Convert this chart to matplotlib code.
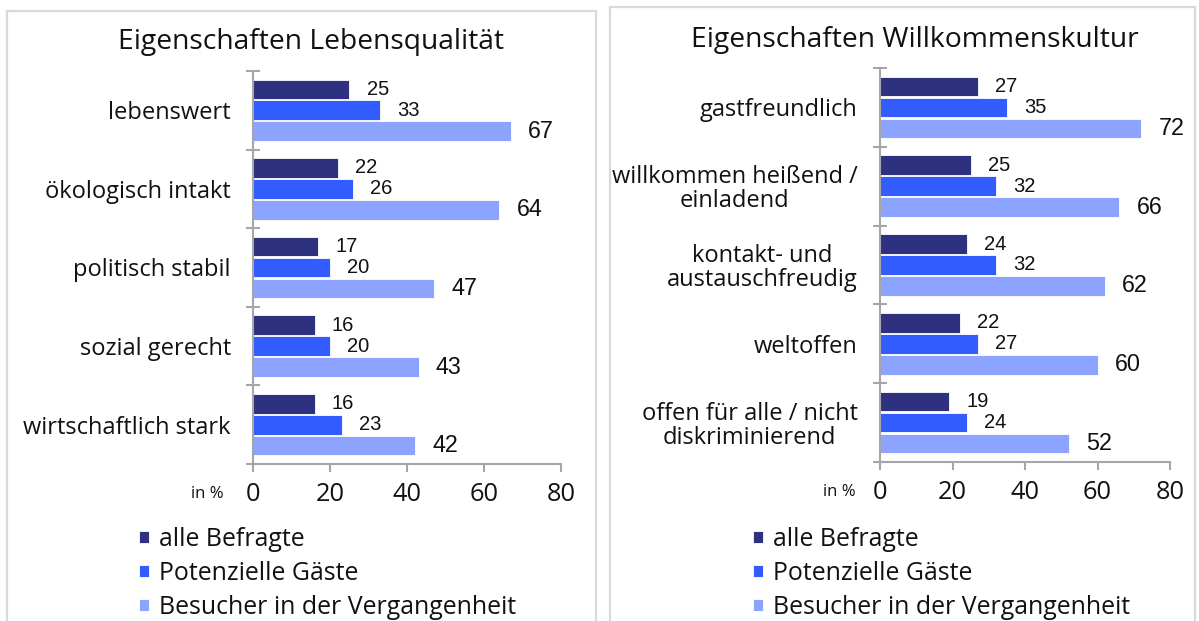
import numpy as np
import matplotlib

matplotlib.use("Agg")
import matplotlib.pyplot as plt
from matplotlib.patches import Rectangle

W, H = 1199, 621

series = ["alle Befragte", "Potenzielle Gäste", "Besucher in der Vergangenheit"]
colors = ["#2E3180", "#335CFF", "#8CA3FF"]

lq_categories = ["lebenswert", "ökologisch intakt", "politisch stabil",
                 "sozial gerecht", "wirtschaftlich stark"]
lq_alle = [25, 22, 17, 16, 16]
lq_potenziell = [33, 26, 20, 20, 23]
lq_besucher = [67, 64, 47, 43, 42]

wk_categories = ["gastfreundlich", "willkommen heißend /\neinladend",
                 "kontakt- und\naustauschfreudig", "weltoffen",
                 "offen für alle / nicht\ndiskriminierend"]
wk_alle = [27, 25, 24, 22, 19]
wk_potenziell = [35, 32, 32, 27, 24]
wk_besucher = [72, 66, 62, 60, 52]

x_ticks = [0, 20, 40, 60, 80]

GRID = "#A6A6A6"
FRAME = "#D9D9D9"
INK = "#111111"

plt.rcParams["font.family"] = ["Open Sans", "DejaVu Sans"]


def fig_rect(x0, y0, x1, y1):
    # pixel box (top-left origin) -> figure fraction [left, bottom, width, height]
    return [x0 / W, 1 - y1 / H, (x1 - x0) / W, (y1 - y0) / H]


def draw_panel(fig, frame_px, axes_px, title, title_px, categories, values, legend_px, inpct_px):
    fr = fig_rect(*frame_px)
    fig.add_artist(Rectangle(fr[:2], fr[2], fr[3], transform=fig.transFigure,
                             fill=False, edgecolor=FRAME, linewidth=1.6))
    fig.text(title_px[0] / W, 1 - title_px[1] / H, title, ha="center", va="center",
             fontsize=20.3, color=INK)

    ax = fig.add_axes(fig_rect(*axes_px))
    pos = np.arange(len(categories)) + 0.5
    offsets = [-0.266, 0.0, 0.266]
    label_sizes = [14.5, 14.5, 16.8]
    bars = []
    for vals, off, col, fs in zip(values, offsets, colors, label_sizes):
        b = ax.barh(pos + off, vals, height=0.25, color=col, edgecolor="white", linewidth=0.6)
        bars.append(b)
        for y, v in zip(pos + off, vals):
            # value labels use a Helvetica-like face, as in the source chart
            ax.annotate(f"{v}", xy=(v, y), xytext=(12.5, 0), textcoords="offset points",
                        ha="left", va="center", fontsize=fs, family="Liberation Sans",
                        color=INK)

    ax.set_xlim(0, 80)
    ax.set_ylim(len(categories), 0)
    ax.set_xticks(x_ticks)
    ax.set_yticks(pos)
    ax.set_yticklabels(categories, multialignment="center", linespacing=1.0)
    ax.set_yticks(np.arange(len(categories) + 1), minor=True)
    ax.tick_params(axis="y", which="major", length=0, pad=16, labelsize=17.0,
                   labelcolor=INK)
    ax.tick_params(axis="y", which="minor", direction="inout", length=10, width=1.5, color=GRID)
    ax.tick_params(axis="x", direction="out", length=6, width=1.5, color=GRID,
                   labelsize=18.3, pad=7, labelcolor=INK)
    for s in ["top", "right"]:
        ax.spines[s].set_visible(False)
    for s in ["left", "bottom"]:
        ax.spines[s].set_color(GRID)
        ax.spines[s].set_linewidth(1.5)

    fig.text(inpct_px[0] / W, 1 - inpct_px[1] / H, "in %", ha="center", va="center",
             fontsize=12, color=INK)

    fig.legend(handles=bars, labels=series, loc="upper left",
               bbox_to_anchor=(legend_px[0] / W, 1 - legend_px[1] / H),
               frameon=False, fontsize=17.9, handlelength=0.4, handleheight=0.4,
               handletextpad=0.42, labelspacing=0.36, borderpad=0, borderaxespad=0,
               labelcolor=INK)


fig = plt.figure(figsize=(W / 100, H / 100), dpi=100)

draw_panel(fig, (7, 11, 596, 640), (253, 71, 561, 464),
           "Eigenschaften Lebensqualität", (311, 42),
           lq_categories, [lq_alle, lq_potenziell, lq_besucher],
           (139, 527), (207, 494))

draw_panel(fig, (610, 7, 1195, 640), (880, 68, 1170, 462),
           "Eigenschaften Willkommenskultur", (915, 40),
           wk_categories, [wk_alle, wk_potenziell, wk_besucher],
           (753, 527), (839, 492))

fig.savefig("out.png", dpi=100)
